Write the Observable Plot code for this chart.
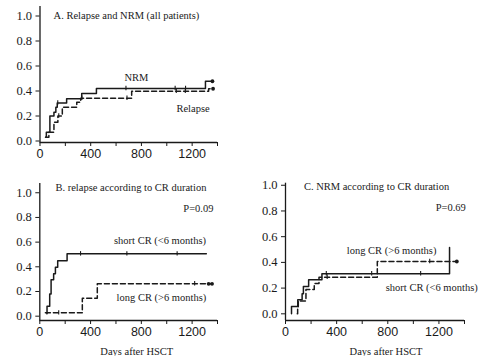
<!DOCTYPE html>
<html>
<head>
<meta charset="utf-8">
<script src="https://cdn.jsdelivr.net/npm/d3@7"></script>
<script src="https://cdn.jsdelivr.net/npm/@observablehq/plot@0.6"></script>
<style>
  html, body { margin: 0; padding: 0; background: #fff; }
  #chart { position: relative; width: 479px; height: 356px; overflow: hidden; }
  #chart > svg { position: absolute; overflow: visible; }
</style>
</head>
<body>
<div id="chart"></div>
<script>
// ---- tick values ----
const xTicks = [0, 200, 400, 600, 800, 1000, 1200, 1400];
const xTickLabels = [0, 400, 800, 1200];
const yTicks = [0, 0.2, 0.4, 0.6, 0.8, 1.0];

// ---- Panel A: Relapse and NRM (all patients) ----  [day, cumulative incidence]
const nrmAll = [[44,0.03],[50,0.07],[78,0.2],[110,0.23],[125,0.27],[136,0.305],[210,0.338],[329,0.38],[445,0.42],[1305,0.478],[1360,0.478]];
const relapseAll = [[44,0.03],[70,0.07],[110,0.15],[141,0.2],[176,0.27],[290,0.31],[321,0.342],[723,0.398],[1330,0.418],[1365,0.418]];
const nrmAllCensor = [[140,0.305],[678,0.42],[1066,0.42],[1148,0.42]];
const relapseAllCensor = [[148,0.2],[330,0.342],[686,0.342],[1075,0.398],[1146,0.398]];
const endsA = [[1360,0.478],[1365,0.418]];

// ---- Panel B: relapse according to CR duration ----
const relapseShort = [[55,0.02],[57,0.08],[78,0.18],[89,0.295],[109,0.343],[123,0.397],[141,0.45],[215,0.505],[1312,0.505]];
const relapseLong = [[44,0.027],[335,0.146],[453,0.262],[1357,0.262]];
const relapseShortCensor = [[321,0.505],[686,0.505],[1082,0.505]];
const relapseLongCensor = [[149,0.027],[1220,0.262]];
const endsB = [[1330,0.262],[1357,0.262]];

// ---- Panel C: NRM according to CR duration ----
const nrmShort = [[47,0],[47,0.057],[96,0.109],[130,0.156],[140,0.213],[181,0.265],[285,0.312],[1283,0.312],[1283,0.515]];
const nrmLong = [[92,0],[95,0.05],[100,0.1],[160,0.19],[225,0.235],[262,0.285],[718,0.407],[1340,0.407]];
const nrmShortCensor = [[319,0.312],[674,0.312],[1057,0.312]];
const nrmLongCensor = [[326,0.285],[1128,0.407]];
const endsC = [[1340,0.407]];

// ---- annotation texts ----  [day, value, text, anchor]
const textsA = [[107,1.0,"A. Relapse and NRM (all patients)","start"],[761,0.505,"NRM","middle"],[1207,0.262,"Relapse","middle"]];
const textsB = [[123,1.045,"B. relapse according to CR duration","start"],[1368,0.875,"P=0.09","end"],[947,0.613,"short CR (<6 months)","middle"],[958,0.154,"long CR (>6 months)","middle"]];
const textsC = [[144,0.987,"C. NRM according to CR duration","start"],[1410,0.823,"P=0.69","end"],[830,0.493,"long CR (>6 months)","middle"],[1144,0.2,"short CR (<6 months)","middle"]];
const xAxisTitle = "Days after HSCT";

const SERIF = "'Liberation Serif', 'Times New Roman', serif";
const SANS = "'Liberation Sans', Arial, sans-serif";
const INK = "#1a1a1a";

function panel(o) {
  const marks = [
    Plot.ruleX([0], {stroke: INK, strokeWidth: 1.3}),
    Plot.ruleY([o.yDomain[0]], {stroke: INK, strokeWidth: 1.3}),
    Plot.axisY(yTicks, {tickSize: 4, tickPadding: 4, tickFormat: d => d.toFixed(1), fontFamily: SERIF, fontSize: 12.5, stroke: INK, fill: INK, label: null}),
    Plot.axisX(xTicks, {tickSize: 4, tickPadding: 3, tickFormat: d => xTickLabels.includes(d) ? String(d) : "", fontFamily: SANS, fontSize: 12.5, stroke: INK, fill: INK, label: null})
  ];
  for (const s of o.series) {
    marks.push(Plot.line(s.pts, {x: d => d[0], y: d => d[1], curve: "step-after", stroke: INK, strokeWidth: 1.5, strokeDasharray: s.dash ? "5,3" : null}));
  }
  for (const c of o.censors) {
    marks.push(Plot.ruleX(c, {x: d => d[0], y1: d => d[1] - 0.018, y2: d => d[1] + 0.018, stroke: INK, strokeWidth: 1.1}));
  }
  marks.push(Plot.dot(o.ends, {x: d => d[0], y: d => d[1], r: 1.9, fill: INK, stroke: null}));
  for (const anchor of ["start", "middle", "end"]) {
    marks.push(Plot.text(o.texts.filter(d => d[3] === anchor), {x: d => d[0], y: d => d[1], text: d => d[2], textAnchor: anchor, fontFamily: SERIF, fontSize: 10.5, fill: INK}));
  }
  if (o.xTitleAt != null) {
    marks.push(Plot.text([xAxisTitle], {x: o.xTitleAt, y: o.yDomain[0], dy: 31, text: d => d, fontFamily: SERIF, fontSize: 10.5, fill: INK}));
  }
  const svg = Plot.plot({
    width: o.width, height: o.height,
    marginLeft: o.mL, marginRight: o.mR, marginTop: o.mT, marginBottom: o.mB,
    x: {domain: [0, 1400], label: null},
    y: {domain: o.yDomain, label: null},
    style: {background: "transparent", overflow: "visible"},
    marks
  });
  svg.style.left = o.left + "px";
  svg.style.top = o.top + "px";
  return svg;
}

const root = document.getElementById("chart");
root.append(panel({
  left: 0, top: 0, width: 240, height: 165, mL: 39.5, mR: 23, mT: 6, mB: 23,
  yDomain: [-0.012, 1.076],
  series: [{pts: nrmAll, dash: false}, {pts: relapseAll, dash: true}],
  censors: [nrmAllCensor, relapseAllCensor], ends: endsA, texts: textsA
}));
root.append(panel({
  left: 0, top: 170, width: 240, height: 186, mL: 39.3, mR: 23, mT: 13, mB: 36,
  yDomain: [-0.035, 1.075],
  series: [{pts: relapseShort, dash: false}, {pts: relapseLong, dash: true}],
  censors: [relapseShortCensor, relapseLongCensor], ends: endsB, texts: textsB, xTitleAt: 764
}));
root.append(panel({
  left: 240, top: 170, width: 239, height: 186, mL: 45, mR: 15, mT: 12.7, mB: 36,
  yDomain: [-0.052, 1.016],
  series: [{pts: nrmShort, dash: false}, {pts: nrmLong, dash: true}],
  censors: [nrmShortCensor, nrmLongCensor], ends: endsC, texts: textsC, xTitleAt: 786
}));
</script>
</body>
</html>
